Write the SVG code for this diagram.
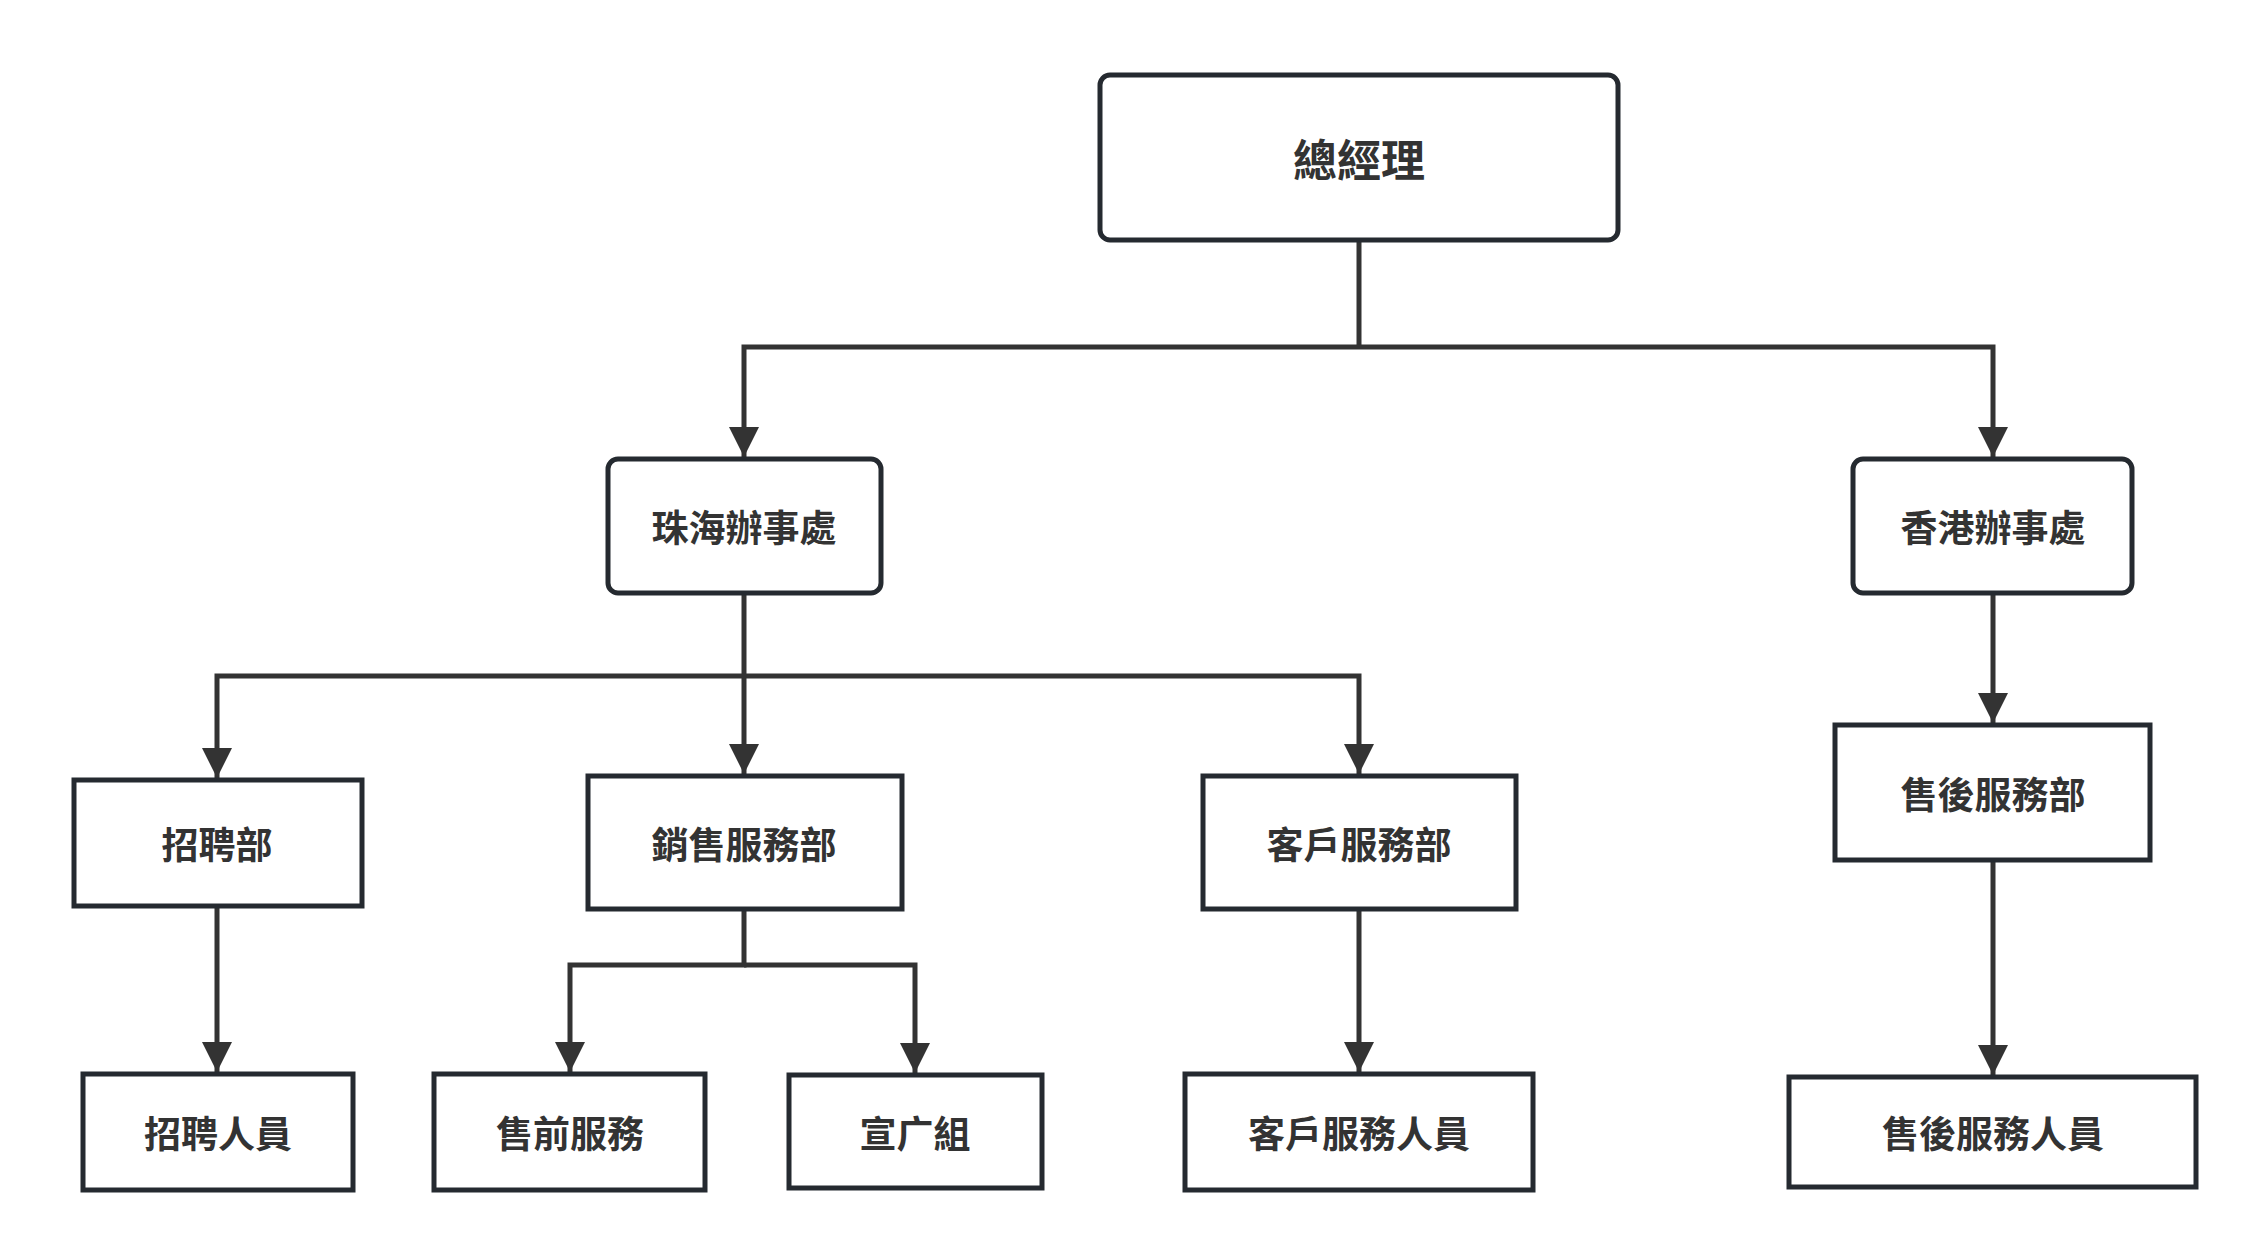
<svg xmlns="http://www.w3.org/2000/svg" width="2261" height="1259" viewBox="0 0 2261 1259">
<style>
.n{fill:#fff;stroke:#252a30;stroke-width:5}
.t{font-family:"Noto Sans CJK TC","Noto Sans CJK SC",sans-serif;font-weight:bold;fill:#333;text-anchor:middle;dominant-baseline:central;font-size:37px}
.c{fill:none;stroke:#333;stroke-width:5}
</style>
<defs><marker id="a" viewBox="0 0 10 10" refX="10" refY="5" markerWidth="6" markerHeight="7" markerUnits="strokeWidth" orient="auto"><path d="M0,0L10,5L0,10z" fill="#333"/></marker></defs>
<rect width="2261" height="1259" fill="#fff"/>
<g id="connectors">
<path class="c" d="M1359,240V347"/>
<path class="c" d="M1359,347H744V457" marker-end="url(#a)"/>
<path class="c" d="M1359,347H1993V457" marker-end="url(#a)"/>
<path class="c" d="M744,593V774" marker-end="url(#a)"/>
<path class="c" d="M744,676H217V778" marker-end="url(#a)"/>
<path class="c" d="M744,676H1359V774" marker-end="url(#a)"/>
<path class="c" d="M1993,593V723" marker-end="url(#a)"/>
<path class="c" d="M217,906V1072" marker-end="url(#a)"/>
<path class="c" d="M744,909V965H570V1072" marker-end="url(#a)"/>
<path class="c" d="M744,965H915V1073" marker-end="url(#a)"/>
<path class="c" d="M1359,909V1072" marker-end="url(#a)"/>
<path class="c" d="M1993,860V1075" marker-end="url(#a)"/>
</g>
<g id="gm"><rect class="n" x="1100" y="75" width="518" height="165" rx="10"/><text class="t" x="1359" y="158" style="font-size:44px">總經理</text></g>
<g id="zh"><rect class="n" x="608" y="459" width="273" height="134" rx="10"/><text class="t" x="744" y="526">珠海辦事處</text></g>
<g id="hk"><rect class="n" x="1853" y="459" width="279" height="134" rx="10"/><text class="t" x="1993" y="526">香港辦事處</text></g>
<g id="zp"><rect class="n" x="74" y="780" width="288" height="126"/><text class="t" x="217" y="843">招聘部</text></g>
<g id="xs"><rect class="n" x="588" y="776" width="314" height="133"/><text class="t" x="744" y="843">銷售服務部</text></g>
<g id="kh"><rect class="n" x="1203" y="776" width="313" height="133"/><text class="t" x="1359" y="843">客戶服務部</text></g>
<g id="sh"><rect class="n" x="1835" y="725" width="315" height="135"/><text class="t" x="1993" y="793">售後服務部</text></g>
<g id="zpr"><rect class="n" x="83" y="1074" width="270" height="116"/><text class="t" x="218" y="1132">招聘人員</text></g>
<g id="sq"><rect class="n" x="434" y="1074" width="271" height="116"/><text class="t" x="570" y="1132">售前服務</text></g>
<g id="xg"><rect class="n" x="789" y="1075" width="253" height="113"/><text class="t" x="915" y="1132">宣广組</text></g>
<g id="khr"><rect class="n" x="1185" y="1074" width="348" height="116"/><text class="t" x="1359" y="1132">客戶服務人員</text></g>
<g id="shr"><rect class="n" x="1789" y="1077" width="407" height="110"/><text class="t" x="1993" y="1132">售後服務人員</text></g>
</svg>
